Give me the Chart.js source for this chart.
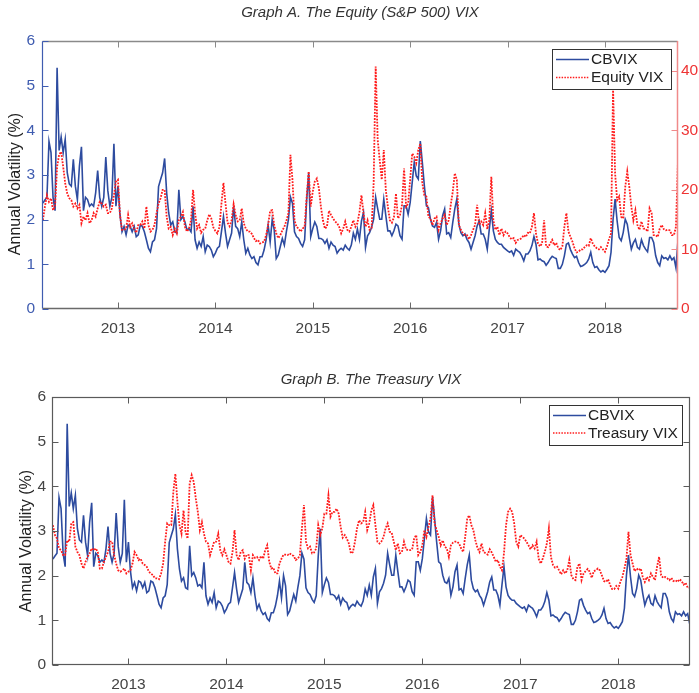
<!DOCTYPE html>
<html><head><meta charset="utf-8">
<script src="https://cdn.jsdelivr.net/npm/chart.js@4.4.1/dist/chart.umd.min.js"></script>
<style>
html,body{margin:0;padding:0;background:#fff;}
#wrap{position:relative;width:699px;height:693px;overflow:hidden;}
canvas{position:absolute;left:0;}
#cA{top:0;} #cB{top:345px;}
</style></head><body>
<div id="wrap"><canvas id="cA" width="699" height="345"></canvas><canvas id="cB" width="699" height="348"></canvas></div>
<script>
// ---- data (weekly samples, first sample = 2012 + 11/48) ----
const START_YEAR = 2013 - 37/48;
const STEP = 1/48;
const yearTicks = [2013, 2014, 2015, 2016, 2017, 2018];
const volTicks = [0, 1, 2, 3, 4, 5, 6];
const vixTicks = [0, 10, 20, 30, 40];

const cbvix = [
2.37,2.44,2.5,3.75,3.5,2.5,2.2,5.4,3.55,3.85,
3.5,3.8,3.05,2.8,2.75,3.35,2.75,2.45,3.2,3.63,
2.2,2.5,2.45,2.3,2.35,2.3,2.6,3.1,2.5,2.3,
2.5,3.4,2.65,2.3,2.5,3.7,2.3,2.75,2.1,1.73,
1.85,1.66,1.88,1.85,1.73,1.85,1.62,1.66,1.88,1.85,
1.73,1.55,1.36,1.28,1.5,1.55,1.8,2.74,2.9,3.05,
3.37,2.6,2.15,1.88,1.95,1.73,1.7,2.67,2.0,2.07,
1.95,1.77,1.8,1.73,2.3,1.55,1.36,1.5,1.4,1.62,
1.28,1.43,1.4,1.32,1.17,1.25,1.36,1.4,1.73,2.07,
1.7,1.4,1.55,1.7,2.3,1.85,1.8,1.62,1.95,1.55,
1.25,1.36,1.21,1.13,1.17,1.04,0.99,1.17,1.17,1.32,
1.55,1.88,1.5,2.0,1.77,1.13,1.21,1.4,1.58,1.43,
1.73,2.0,2.51,2.37,1.73,1.62,1.58,1.47,1.4,1.55,
2.44,3.05,1.62,1.8,1.95,1.85,1.58,1.58,1.55,1.47,
1.55,1.36,1.5,1.43,1.4,1.25,1.32,1.36,1.32,1.43,
1.36,1.32,1.43,1.7,1.56,1.79,1.56,1.97,2.16,1.38,
1.64,1.71,1.83,2.01,2.5,2.24,2.01,2.01,2.46,2.09,
1.75,1.75,1.64,1.75,1.9,1.86,1.64,1.56,2.31,2.31,
2.12,2.38,2.83,3.28,2.98,2.91,3.76,3.28,2.76,2.31,
2.27,2.01,1.86,1.83,1.94,1.56,1.75,2.09,2.24,1.68,
1.71,1.6,1.94,2.24,2.46,1.9,1.71,1.64,1.68,1.56,
1.49,1.34,1.49,1.64,1.86,1.97,1.68,1.68,1.56,1.34,
1.79,2.2,1.75,1.56,1.49,1.45,1.45,1.38,1.34,1.3,
1.27,1.3,1.2,1.34,1.3,1.27,1.19,1.08,1.23,1.23,
1.3,1.42,1.62,1.45,1.1,1.12,1.08,1.06,0.98,1.04,
1.12,1.18,1.15,1.13,0.91,0.91,1.0,1.19,1.45,1.48,
1.33,1.23,1.15,1.18,1.04,0.95,0.97,1.0,1.04,1.12,
1.27,1.04,0.93,0.95,0.88,0.83,0.86,0.82,0.89,0.97,
1.27,2.01,2.46,1.97,1.6,1.53,1.71,2.01,1.9,1.6,
1.34,1.48,1.56,1.38,1.34,1.55,1.42,1.34,1.28,1.6,
1.6,1.49,1.19,1.04,0.97,1.19,1.13,1.15,1.1,1.19,
1.1,1.15,0.92,1.55
];

const equityVix = [
14.9,17.2,19.1,18.0,18.6,16.6,17.2,23.9,25.9,26.4,
23.9,21.1,19.4,18.6,18.3,17.2,17.7,16.9,17.5,14.4,
15.5,14.9,16.1,14.4,14.9,16.1,15.5,16.9,18.0,17.7,
17.2,17.5,16.1,16.1,16.9,19.1,21.4,21.7,15.8,13.3,
13.3,13.5,15.8,13.8,14.4,13.5,12.8,14.1,14.1,14.7,
13.5,17.2,14.1,13.0,13.3,14.1,16.1,17.7,18.6,20.0,
20.0,15.5,13.5,13.8,12.4,13.5,12.7,14.9,15.5,16.3,
13.8,13.0,13.5,14.9,20.0,16.1,13.5,14.1,12.8,13.3,
13.5,14.9,15.9,15.2,13.7,13.1,12.7,13.7,17.7,21.2,
17.7,14.5,13.9,14.9,17.6,15.8,14.7,14.9,16.9,14.4,
13.5,13.0,13.0,12.6,11.9,11.4,11.6,11.0,11.2,11.3,
12.4,14.1,16.5,16.6,14.1,12.7,11.9,12.4,13.2,13.8,
14.8,16.1,25.9,21.7,14.9,13.8,13.5,13.0,13.5,13.8,
18.9,23.1,17.2,19.7,21.4,21.9,20.3,17.2,14.9,13.5,
13.8,16.5,15.8,15.2,14.7,14.4,13.8,12.7,13.5,14.7,
13.3,13.0,13.8,14.9,13.8,14.4,16.3,19.1,16.1,13.8,
14.9,13.3,13.6,21.1,40.7,28.4,25.0,21.7,26.7,20.0,
17.2,14.9,14.5,15.4,19.4,15.2,15.8,17.5,23.6,17.2,
17.7,21.7,26.1,25.6,24.5,26.7,27.8,21.1,19.1,18.9,
15.5,15.2,14.1,15.2,15.5,13.3,14.4,15.2,15.8,14.1,
14.9,17.5,19.7,22.8,21.7,14.1,13.3,12.7,12.4,12.4,
11.7,12.4,13.3,14.1,17.5,14.1,14.7,14.1,16.1,13.4,
14.9,22.2,14.9,13.3,13.8,12.4,13.5,12.4,13.0,12.7,
12.1,11.7,11.9,11.1,11.6,11.7,11.9,12.4,12.1,12.8,
12.7,13.8,16.1,12.7,11.0,10.5,11.0,14.9,10.5,10.4,
11.0,11.6,10.7,11.1,10.2,9.9,10.5,13.8,16.1,13.0,
12.1,11.3,10.2,9.5,9.6,10.0,10.0,10.4,10.7,10.6,
11.9,11.0,10.5,10.2,10.0,10.4,10.0,9.6,10.5,11.7,
12.7,37.0,22.8,18.3,18.9,15.5,15.2,20.5,23.1,20.5,
17.2,14.9,16.6,14.1,13.3,14.7,13.5,13.5,13.0,16.9,
16.1,12.4,12.4,12.1,13.5,14.1,13.4,13.2,13.3,13.2,
12.4,12.4,13.8,25.0
];

const treasuryVix = [
3.13,2.91,2.83,2.61,2.57,2.46,2.46,2.79,2.76,3.17,
3.2,2.65,2.53,2.46,2.27,2.16,2.31,2.42,2.5,2.61,
2.57,2.61,2.53,2.16,2.16,2.31,2.42,2.53,2.76,2.76,
2.46,2.27,2.12,2.09,2.12,2.16,2.05,2.09,2.12,2.27,
2.53,2.46,2.35,2.38,2.27,2.24,2.2,2.09,2.05,2.01,
1.94,1.94,1.92,2.05,2.27,2.76,3.17,3.13,3.13,3.87,
4.28,3.65,3.13,2.94,3.46,2.98,2.83,4.06,4.25,4.1,
3.73,3.43,3.02,3.2,2.94,2.76,2.72,2.46,2.61,2.76,
2.76,2.94,2.57,2.46,2.59,2.46,2.31,2.27,2.53,3.02,
2.46,2.35,2.53,2.57,2.38,2.47,2.46,2.12,2.46,2.4,
2.42,2.35,2.44,2.38,2.57,2.68,2.31,2.16,2.18,2.05,
2.05,2.27,2.38,2.47,2.47,2.46,2.5,2.46,2.44,2.35,
2.38,2.46,3.06,3.58,2.76,2.61,2.65,2.5,2.52,2.61,
3.13,2.91,3.06,3.39,3.39,3.8,3.32,3.43,3.43,3.5,
3.39,3.09,2.85,2.91,2.83,2.72,2.5,2.53,2.76,3.06,
3.24,3.17,3.2,3.43,3.02,3.17,3.46,3.58,3.13,2.76,
2.72,2.77,2.87,3.06,3.17,2.98,2.96,2.76,2.57,2.72,
2.5,2.53,2.76,2.59,2.57,2.57,2.59,2.83,2.91,2.46,
2.53,2.68,3.02,2.87,3.09,3.28,3.8,3.17,3.02,2.87,
2.68,2.79,2.65,2.61,2.42,2.68,2.74,2.76,2.76,2.72,
2.61,2.53,2.87,3.28,3.35,3.13,3.02,2.79,2.62,2.53,
2.72,2.53,2.5,2.47,2.59,2.52,2.42,2.31,2.35,2.2,
2.12,2.5,3.13,3.43,3.5,3.43,3.17,2.76,2.65,2.91,
2.87,2.83,2.76,2.68,2.59,2.68,2.61,2.76,2.38,2.27,
2.38,2.53,2.72,3.06,2.42,2.24,2.18,2.2,2.12,2.03,
2.12,2.05,2.12,2.35,2.01,1.92,1.9,2.2,2.27,1.9,
2.05,2.1,2.15,2.09,1.95,2.1,2.12,2.16,2.12,2.0,
1.88,1.86,1.92,1.79,1.7,1.7,1.77,1.71,1.86,1.97,
2.16,2.38,2.98,2.46,2.27,2.1,2.16,2.12,2.16,1.97,
1.86,1.97,1.9,2.05,1.97,1.9,2.2,2.42,2.01,1.95,
1.97,1.94,1.9,1.95,1.88,1.9,1.86,1.92,1.88,1.8,
1.84,1.73,1.73,1.65
];

// ---- styling ----
const FONT = '"Liberation Sans", Arial, Helvetica, sans-serif';
const BLUE = '#2d4b9f';
const BLUE_AX = '#3f5cb0';
const RED = '#ff1c1c';
const RED_AX = '#f08a8a';
const RED_TXT = '#ee3434';
const GRAY_TXT = '#444444';
const TICK_FS = 15.5;
const BLUE_W = 1.6;
const RED_W = 1.8;
const RED_DASH = [1.8, 1.3];

const toXY = arr => arr.map((v, i) => ({ x: START_YEAR + i * STEP, y: v }));

function line(ctx, x1, y1, x2, y2) { ctx.beginPath(); ctx.moveTo(x1, y1); ctx.lineTo(x2, y2); ctx.stroke(); }

function drawLegend(ctx, box, entries) {
  ctx.fillStyle = '#fff';
  ctx.fillRect(box.x, box.y, box.w, box.h);
  ctx.strokeStyle = '#333';
  ctx.lineWidth = 1;
  ctx.setLineDash([]);
  ctx.strokeRect(box.x + 0.5, box.y + 0.5, box.w, box.h);
  ctx.font = '15.5px ' + FONT;
  ctx.textAlign = 'left';
  ctx.textBaseline = 'middle';
  entries.forEach(e => {
    ctx.strokeStyle = e.color;
    ctx.lineWidth = e.width;
    ctx.setLineDash(e.dash || []);
    line(ctx, box.x + 4, e.y, box.x + 37, e.y);
    ctx.setLineDash([]);
    ctx.fillStyle = '#222';
    ctx.fillText(e.label, box.x + 39, e.y + 0.5);
  });
}

function drawYTitle(ctx, x, y) {
  ctx.save();
  ctx.translate(x, y);
  ctx.rotate(-Math.PI / 2);
  ctx.font = '16px ' + FONT;
  ctx.fillStyle = '#222';
  ctx.textAlign = 'center';
  ctx.textBaseline = 'middle';
  ctx.fillText('Annual Volatility (%)', 0, 0);
  ctx.restore();
}

const panelA = {
  id: 'panelA',
  afterDraw(chart) {
    const ctx = chart.ctx, a = chart.chartArea;
    const sx = chart.scales.x, sy = chart.scales.y, sr = chart.scales.yR;
    const L = Math.round(a.left) + 0.5, R = Math.round(a.right) - 0.5;
    const T = Math.round(a.top) + 0.5, B = Math.round(a.bottom) - 0.5;
    ctx.save();
    ctx.lineWidth = 1.3;
    ctx.strokeStyle = '#8a8a8a'; line(ctx, L, T, R, T);
    ctx.strokeStyle = '#6a6a6a'; line(ctx, L, B, R, B);
    ctx.lineWidth = 1;
    yearTicks.forEach(v => {
      const px = Math.round(sx.getPixelForValue(v)) + 0.5;
      ctx.strokeStyle = '#6a6a6a'; line(ctx, px, B, px, B - 6);
      ctx.strokeStyle = '#8a8a8a'; line(ctx, px, T, px, T + 6);
    });
    ctx.strokeStyle = BLUE_AX; ctx.lineWidth = 1.2; line(ctx, L, T, L, B);
    ctx.lineWidth = 1;
    volTicks.forEach(v => { const py = Math.round(sy.getPixelForValue(v)) + 0.5; line(ctx, L, py, L + 6, py); });
    ctx.strokeStyle = RED_AX; ctx.lineWidth = 1.5; line(ctx, R, T - 0.5, R, B + 0.5);
    ctx.lineWidth = 1;
    vixTicks.forEach(v => { const py = Math.round(sr.getPixelForValue(v)) + 0.5; line(ctx, R, py, R - 6, py); });
    // title
    ctx.font = 'italic 15px ' + FONT;
    ctx.fillStyle = '#333';
    ctx.textAlign = 'center'; ctx.textBaseline = 'middle';
    ctx.fillText('Graph A. The Equity (S&P 500) VIX', (a.left + a.right) / 2, 13);
    drawYTitle(ctx, 16, 184);
    drawLegend(ctx, { x: 552, y: 49, w: 119, h: 40 }, [
      { label: 'CBVIX', color: BLUE, width: 1.3, y: 59.5 },
      { label: 'Equity VIX', color: RED, width: 1.5, dash: [1.5, 1.3], y: 77.5 }
    ]);
    ctx.restore();
  }
};

const panelB = {
  id: 'panelB',
  afterDraw(chart) {
    const ctx = chart.ctx, a = chart.chartArea;
    const sx = chart.scales.x, sy = chart.scales.y;
    const L = Math.round(a.left) + 0.5, R = Math.round(a.right) - 0.5;
    const T = Math.round(a.top) + 0.5, B = Math.round(a.bottom) - 0.5;
    ctx.save();
    ctx.lineWidth = 1.2;
    ctx.strokeStyle = '#5a5a5a';
    ctx.strokeRect(L, T, R - L, B - T);
    ctx.lineWidth = 1;
    yearTicks.forEach(v => {
      const px = Math.round(sx.getPixelForValue(v)) + 0.5;
      line(ctx, px, B, px, B - 6);
      line(ctx, px, T, px, T + 6);
    });
    volTicks.forEach(v => {
      const py = Math.round(sy.getPixelForValue(v)) + 0.5;
      line(ctx, L, py, L + 6, py);
      line(ctx, R, py, R - 6, py);
    });
    ctx.font = 'italic 15px ' + FONT;
    ctx.fillStyle = '#333';
    ctx.textAlign = 'center'; ctx.textBaseline = 'middle';
    ctx.fillText('Graph B. The Treasury VIX', (a.left + a.right) / 2, 35);
    drawYTitle(ctx, 27, 196);
    drawLegend(ctx, { x: 549, y: 60, w: 133, h: 40 }, [
      { label: 'CBVIX', color: BLUE, width: 1.3, y: 70.5 },
      { label: 'Treasury VIX', color: RED, width: 1.5, dash: [1.5, 1.3], y: 88 }
    ]);
    ctx.restore();
  }
};

function xScale(max, h) {
  return {
    type: 'linear', min: 2012.22, max: max,
    afterBuildTicks: s => { s.ticks = yearTicks.map(v => ({ value: v })); },
    afterFit: s => { s.height = h; },
    grid: { display: false, drawTicks: false }, border: { display: false },
    ticks: { font: { family: FONT, size: TICK_FS }, color: GRAY_TXT, padding: 10, maxRotation: 0, autoSkip: false, callback: v => String(v) }
  };
}

Chart.defaults.font.family = FONT;

new Chart(document.getElementById('cA'), {
  type: 'line',
  data: { datasets: [
    { label: 'Equity VIX', data: toXY(equityVix), yAxisID: 'yR', borderColor: RED, borderWidth: RED_W, borderDash: RED_DASH, pointRadius: 0, fill: false, tension: 0, order: 0 },
    { label: 'CBVIX', data: toXY(cbvix), yAxisID: 'y', borderColor: BLUE, borderWidth: BLUE_W, pointRadius: 0, fill: false, tension: 0, order: 1 }
  ] },
  options: {
    responsive: false, animation: false, devicePixelRatio: 1,
    layout: { padding: { top: 41, left: 0, right: 0, bottom: 0 } },
    plugins: { legend: { display: false }, tooltip: { enabled: false }, title: { display: false } },
    scales: {
      x: xScale(2018.75, 36),
      y: {
        position: 'left', min: 0, max: 6,
        afterBuildTicks: s => { s.ticks = volTicks.map(v => ({ value: v })); },
        afterFit: s => { s.width = 42; },
        grid: { display: false, drawTicks: false }, border: { display: false },
        ticks: { font: { family: FONT, size: TICK_FS }, color: BLUE_AX, padding: 7, callback: v => String(v) }
      },
      yR: {
        position: 'right', min: 0, max: 45,
        afterBuildTicks: s => { s.ticks = vixTicks.map(v => ({ value: v })); },
        afterFit: s => { s.width = 21; },
        grid: { display: false, drawTicks: false }, border: { display: false },
        ticks: { font: { family: FONT, size: TICK_FS }, color: RED_TXT, padding: 3, callback: v => String(v) }
      }
    }
  },
  plugins: [panelA]
});

new Chart(document.getElementById('cB'), {
  type: 'line',
  data: { datasets: [
    { label: 'Treasury VIX', data: toXY(treasuryVix), borderColor: RED, borderWidth: RED_W, borderDash: RED_DASH, pointRadius: 0, fill: false, tension: 0, order: 0 },
    { label: 'CBVIX', data: toXY(cbvix), borderColor: BLUE, borderWidth: BLUE_W, pointRadius: 0, fill: false, tension: 0, order: 1 }
  ] },
  options: {
    responsive: false, animation: false, devicePixelRatio: 1,
    layout: { padding: { top: 52, left: 0, right: 9, bottom: 0 } },
    plugins: { legend: { display: false }, tooltip: { enabled: false }, title: { display: false } },
    scales: {
      x: xScale(2018.732, 28),
      y: {
        position: 'left', min: 0, max: 6,
        afterBuildTicks: s => { s.ticks = volTicks.map(v => ({ value: v })); },
        afterFit: s => { s.width = 52; },
        grid: { display: false, drawTicks: false }, border: { display: false },
        ticks: { font: { family: FONT, size: TICK_FS }, color: GRAY_TXT, padding: 6, callback: v => String(v) }
      }
    }
  },
  plugins: [panelB]
});
</script></body></html>
